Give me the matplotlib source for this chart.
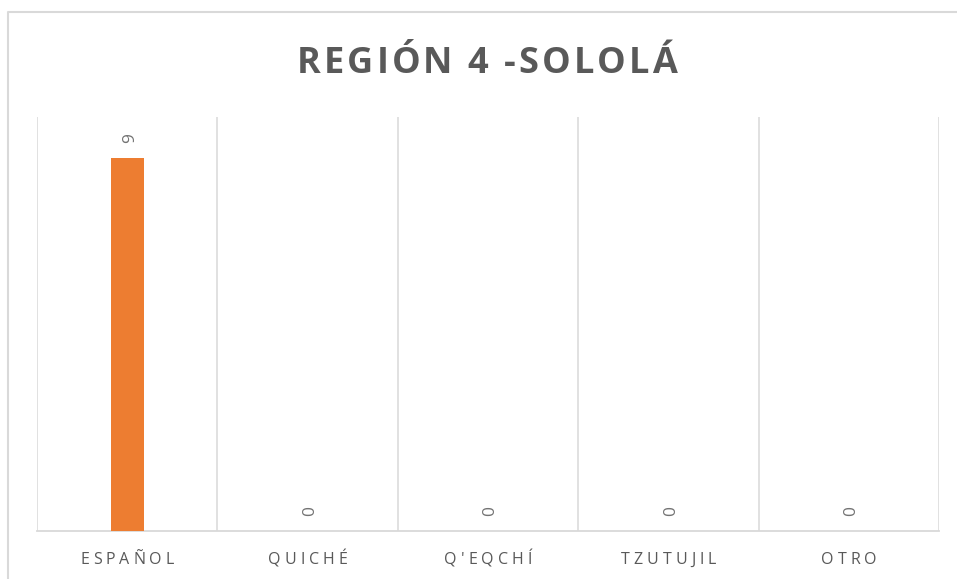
import matplotlib
matplotlib.use("Agg")
import matplotlib.pyplot as plt
from matplotlib.lines import Line2D
from matplotlib.transforms import IdentityTransform
from matplotlib.font_manager import FontProperties

### data
categorias = ['ESPAÑOL', 'QUICHÉ', "Q'EQCHÍ", 'TZUTUJIL', 'OTRO']
valores = [9, 0, 0, 0, 0]
titulo = 'REGIÓN 4 -SOLOLÁ'

### settings
W, H = 957, 579
naranja = '#ED7D31'
gris_linea = '#D9D9D9'
gris_texto = '#595959'
fuente = 'Open Sans'

fig = plt.figure(figsize=(W / 100, H / 100), dpi=100)
ax = fig.add_axes([37 / W, 1 - 531 / H, (939 - 37) / W, (531 - 117) / H])

x = list(range(len(categorias)))
ax.bar(x, valores, width=0.183, color=naranja, zorder=3)
ax.set_xlim(-0.5, len(categorias) - 0.5)
ax.set_ylim(0, 10)

# data labels, rotated
for i, v in zip(x, valores):
    ax.annotate(str(v), (i, v), xytext=(1.8, 14.5), textcoords='offset points',
                rotation=90, ha='center', va='center', fontsize=12.5,
                family=fuente, color='#737373')

# vertical gridlines between categories
ax.set_xticks([i - 0.5 for i in range(len(categorias) + 1)], minor=True)
ax.grid(True, which='minor', axis='x', color=gris_linea, lw=1.1, zorder=0)
ax.set_xticks([])
ax.set_yticks([])
for s in ['top', 'right', 'left']:
    ax.spines[s].set_visible(False)
ax.spines['bottom'].set_color(gris_linea)
ax.spines['bottom'].set_linewidth(1.3)
ax.tick_params(which='both', length=0)

# outer chart border (cropped on right and bottom)
fig.add_artist(Line2D([8 / W, 8 / W, 1.0], [0.0, 1 - 12 / H, 1 - 12 / H],
                      transform=fig.transFigure, color=gris_linea, lw=1.5))

renderer = fig.canvas.get_renderer()


def texto_espaciado(xc, yc, s, size, weight, color, sp):
    """draw s centred at pixel (xc, yc from top) with letter spacing sp px"""
    prop = FontProperties(family=fuente, size=size, weight=weight)
    base = renderer.get_text_width_height_descent('xx', prop, ismath=False)[0]
    anchos = [renderer.get_text_width_height_descent('x' + c + 'x', prop, ismath=False)[0] - base
              for c in s]
    total = sum(anchos) + sp * (len(s) - 1)
    cap = renderer.get_text_width_height_descent('H', prop, ismath=False)[1]
    xx = xc - total / 2
    yb = (H - yc) - cap / 2
    for c, a in zip(s, anchos):
        fig.text(xx, yb, c, transform=IdentityTransform(), fontproperties=prop,
                 color=color, ha='left', va='baseline')
        xx += a + sp


texto_espaciado(487, 60, titulo, 26, 'bold', gris_texto, 3.0)

for i, c in zip(x, categorias):
    px = ax.transData.transform((i, 0))[0]
    texto_espaciado(px, 558, c, 11.5, 'normal', gris_texto, 4.0)

fig.savefig('out.png', dpi=100, facecolor='white')
